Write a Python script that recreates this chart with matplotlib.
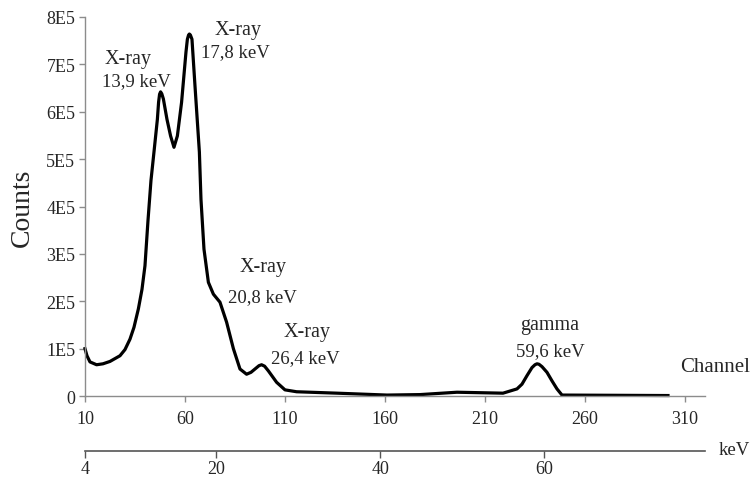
import matplotlib.pyplot as plt

plt.rcParams['font.family'] = ['Liberation Serif', 'DejaVu Serif']

# spectrum: channel vs counts (in units of 1E5)
channel = [10, 11, 12.5, 15.8, 19, 22.5, 27.5, 30, 32.5, 34.5, 36.7, 38.5, 40,
           41.5, 43, 44.5, 46.2, 46.8, 47.3, 47.8, 48.4, 49.2, 51, 52.8, 54.5,
           56.2, 58.3, 60.5, 61.2, 61.8, 62.2, 62.7, 63.5, 65, 67.2, 68, 69.5,
           71.7, 74.2, 77.5, 80.8, 84.2, 87.5, 90.8, 93, 95, 97, 98.3, 99.8,
           101.7, 105.8, 110, 115.8, 136, 161, 177.5, 196, 219, 226, 228.5, 231,
           233.5, 235, 236, 237, 238.5, 241, 243.5, 246, 248.5, 301.5]
counts = [1.00, 0.85, 0.72, 0.66, 0.68, 0.73, 0.85, 0.98, 1.20, 1.45, 1.84, 2.25,
          2.75, 3.70, 4.55, 5.15, 5.84, 6.20, 6.37, 6.42, 6.38, 6.27, 5.84, 5.49,
          5.25, 5.49, 6.20, 7.26, 7.53, 7.62, 7.64, 7.62, 7.53, 6.55, 5.15, 4.15,
          3.10, 2.40, 2.15, 1.98, 1.56, 1.00, 0.57, 0.46, 0.50, 0.57, 0.64, 0.66,
          0.63, 0.53, 0.29, 0.13, 0.09, 0.06, 0.02, 0.03, 0.08, 0.06, 0.15, 0.25,
          0.43, 0.60, 0.66, 0.68, 0.67, 0.62, 0.50, 0.32, 0.15, 0.02, 0.01]

y_ticks = [0, 1, 2, 3, 4, 5, 6, 7, 8]
y_labels = ['0', '1E5', '2E5', '3E5', '4E5', '5E5', '6E5', '7E5', '8E5']
x_ticks = [10, 60, 110, 160, 210, 260, 310]
kev_ticks = [4, 20, 40, 60]
kev_start = 4          # keV at channel 10
kev_per_channel = 0.2439

peak_names = ['X-ray', 'X-ray', 'X-ray', 'X-ray', 'gamma']
peak_energy = ['13,9 keV', '17,8 keV', '20,8 keV', '26,4 keV', '59,6 keV']
name_pos = [(31.5, 7.13), (86.5, 7.74), (99, 2.74), (121, 1.37), (242.5, 1.52)]
energy_pos = [(35.5, 6.65), (85, 7.26), (98.5, 2.09), (120, 0.82), (242.5, 0.95)]


def to_kev(ch):
    return kev_start + (ch - 10) * kev_per_channel


def to_ch(e):
    return 10 + (e - kev_start) / kev_per_channel


grey = '#8c8c8c'
txt = '#262626'

fig = plt.figure(figsize=(7.54, 4.81), dpi=100)
ax = fig.add_axes([0.1127, 0.1746, 0.8223, 0.788])

ax.plot(channel, [c * 1e5 for c in counts], color='black', lw=2.3,
        solid_joinstyle='round', clip_on=False)

ax.set_xlim(10, 320)
ax.set_ylim(0, 8e5)
ax.set_yticks([t * 1e5 for t in y_ticks])
ax.set_yticklabels(y_labels)
ax.set_xticks(x_ticks)

for s in ['top', 'right']:
    ax.spines[s].set_visible(False)
for s in ['left', 'bottom']:
    ax.spines[s].set_color(grey)
    ax.spines[s].set_linewidth(1.0)
ax.tick_params(axis='both', colors=grey, labelcolor=txt, labelsize=13,
               length=4, width=1.0)
ax.tick_params(axis='x', pad=6)
ax.tick_params(axis='y', pad=3)

ax.set_ylabel('Counts', fontsize=20, color=txt, labelpad=8)

for name, p in zip(peak_names, name_pos):
    ax.text(p[0], p[1] * 1e5, name, ha='center', va='center', fontsize=14.5,
            color=txt)
for lab, p in zip(peak_energy, energy_pos):
    ax.text(p[0], p[1] * 1e5, lab, ha='center', va='center', fontsize=13.5,
            color=txt)

ax.text(325, 0.63e5, 'Channel', ha='center', va='center', fontsize=15,
        color=txt, clip_on=False)

# energy axis below the channel axis
sec = ax.secondary_xaxis(-0.145, functions=(to_kev, to_ch))
sec.set_xticks(kev_ticks)
sec.spines['bottom'].set_color('#555555')
sec.spines['bottom'].set_linewidth(1.2)
sec.tick_params(colors='#555555', labelcolor=txt, labelsize=13, length=5,
                width=1.0, pad=1.5)
fig.text(719 / 754, 1 - 451 / 481, 'keV', ha='left', va='center',
         fontsize=13.5, color=txt)

fig.savefig('out.png', dpi=100)
